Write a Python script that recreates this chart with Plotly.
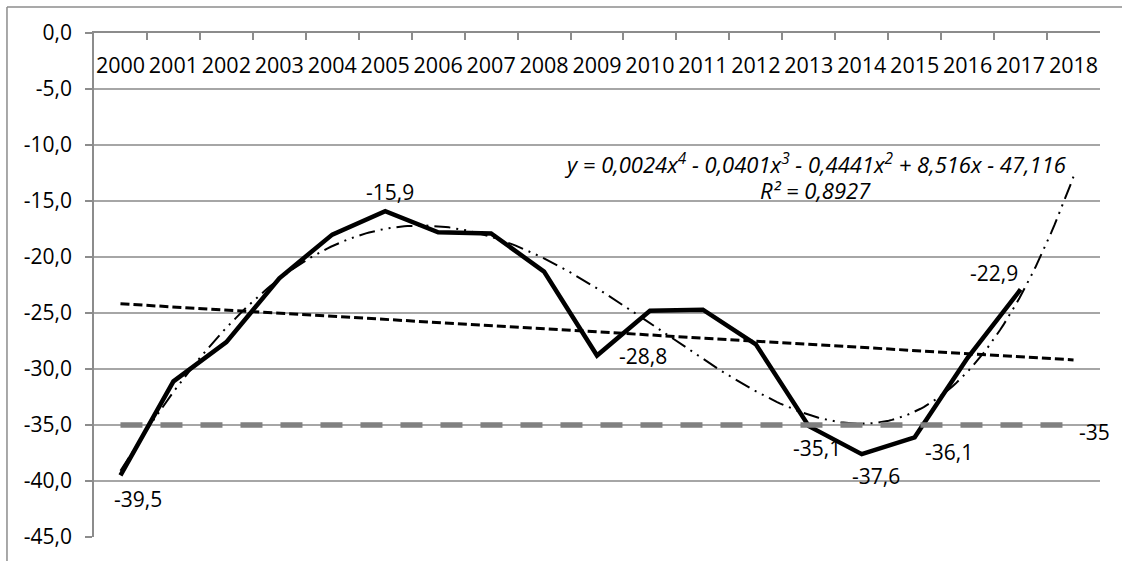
import numpy as np
import plotly.graph_objects as go

# ---- data ----
years = [str(y) for y in range(2000, 2019)]
values = [-39.5, -31.1, -27.6, -21.9, -18.0, -15.9, -17.8, -17.9, -21.3,
          -28.8, -24.8, -24.7, -27.8, -35.1, -37.6, -36.1, -29.0, -22.9]
threshold = [-35.0] * len(years)
labelled_years = ["2000", "2005", "2009", "2013", "2014", "2015", "2017"]
y_ticks = [0, -5, -10, -15, -20, -25, -30, -35, -40, -45]

FONT = "Open Sans, Liberation Sans, sans-serif"
GRID = "#A6A6A6"
AXIS = "#8C8C8C"

n_obs = len(values)
t = np.arange(1, n_obs + 1)            # trend periods 1..18

# trend lines (fitted on the series, forecast one period forward)
poly = np.polyfit(t, values, 4)
lin = np.polyfit(t, values, 1)
t_fine = np.linspace(1, len(years), 300)
poly_y = np.polyval(poly, t_fine)
lin_t = np.array([1, len(years)])
lin_y = np.polyval(lin, lin_t)

fig = go.Figure()

# threshold line on the labelled category axis (x3)
fig.add_trace(go.Scatter(
    x=years, y=threshold, mode="lines", xaxis="x3",
    line=dict(color="#808080", width=5.5, dash="22px,18px"),
    hoverinfo="skip"))

# continuous trend curves on the hidden numeric axis (x2)
fig.add_trace(go.Scatter(
    x=lin_t - 1, y=lin_y, mode="lines", xaxis="x2",
    line=dict(color="black", width=3, dash="9px,4px"), hoverinfo="skip"))

fig.add_trace(go.Scatter(
    x=t_fine - 1, y=poly_y, mode="lines", xaxis="x2",
    line=dict(color="black", width=2, dash="16px,6px,2px,6px,2px,6px"),
    hoverinfo="skip"))

# observed series on the main category axis (x)
fig.add_trace(go.Scatter(
    x=years[:n_obs], y=values, mode="lines",
    line=dict(color="black", width=4.5)))

# data labels: (x shift, y shift) in pixels
label_offsets = {
    "2000": (18, -24), "2005": (5, 19), "2009": (46, 0), "2013": (8, -22),
    "2014": (14, -22), "2015": (34, -15), "2017": (-27, 16),
}
ann = []
for yr in labelled_years:
    i = years.index(yr)
    dx, dy = label_offsets[yr]
    ann.append(dict(x=i, y=values[i], xref="x2", yref="y",
                    text=f"{values[i]:.1f}".replace(".", ","),
                    showarrow=False, xshift=dx, yshift=dy,
                    xanchor="center", yanchor="middle",
                    font=dict(family=FONT, size=21, color="black")))

last = len(years) - 1
ann.append(dict(x=last, y=threshold[last], xref="x2", yref="y",
                text=f"{threshold[last]:g}", showarrow=False,
                xshift=21, yshift=-7, xanchor="center", yanchor="middle",
                font=dict(family=FONT, size=21, color="black")))

eq_text = ("y = 0,0024x<sup>4</sup> - 0,0401x<sup>3</sup> - 0,4441x<sup>2</sup>"
           " + 8,516x - 47,116")
ann.append(dict(x=0.7167, y=0.742, xref="paper", yref="paper", text=f"<i>{eq_text}</i>",
                showarrow=False, xanchor="center", yanchor="middle",
                font=dict(family=FONT, size=22, color="black")))
ann.append(dict(x=0.7167, y=0.6885, xref="paper", yref="paper",
                text="<i>R² = 0,8927</i>", showarrow=False,
                xanchor="center", yanchor="middle",
                font=dict(family=FONT, size=22, color="black")))

# chart frame
shapes = [
    dict(type="line", xref="paper", yref="paper", x0=-0.0865, x1=1.03,
         y0=1.0516, y1=1.0516, line=dict(color=AXIS, width=1.5)),
    dict(type="line", xref="paper", yref="paper", x0=-0.0865, x1=-0.0865,
         y0=1.0516, y1=-0.06, line=dict(color=AXIS, width=1.5)),
]

y_ticktext = [f"{v:.1f}".replace(".", ",") for v in y_ticks]
x_range = [-0.5, len(years) - 0.5]

fig.update_layout(
    width=1122, height=561,
    margin=dict(l=94, r=22, t=33, b=24),
    paper_bgcolor="white", plot_bgcolor="white",
    showlegend=False,
    font=dict(family=FONT, size=21, color="black"),
    annotations=ann, shapes=shapes,
    # axis line along y = 0 with tick marks between categories
    xaxis=dict(type="category", categoryorder="array", categoryarray=years,
               range=x_range, side="top",
               tickson="boundaries", ticks="inside", ticklen=7,
               tickcolor=AXIS, tickwidth=1.5, showticklabels=False,
               showgrid=False, zeroline=False, showline=True,
               linecolor=AXIS, linewidth=1.5),
    xaxis2=dict(range=x_range, overlaying="x", side="top", visible=False),
    # category labels hanging just below the y = 0 axis line
    xaxis3=dict(type="category", categoryorder="array", categoryarray=years,
                range=x_range, overlaying="x", anchor="free", position=0.9643,
                side="bottom", ticks="", tickangle=0, showline=False,
                showgrid=False, zeroline=False,
                tickfont=dict(family=FONT, size=21.5, color="black")),
    yaxis=dict(range=[-45, 0], tickmode="array", tickvals=y_ticks,
               ticktext=y_ticktext, ticks="outside", ticklen=7, tickcolor=AXIS,
               tickwidth=1.5, showline=True, linecolor=AXIS, linewidth=1.5,
               showgrid=True, gridcolor=GRID, gridwidth=1.5, zeroline=False,
               ticklabelstandoff=9,
               tickfont=dict(family=FONT, size=21, color="black")),
)

fig.write_html("out.html")
